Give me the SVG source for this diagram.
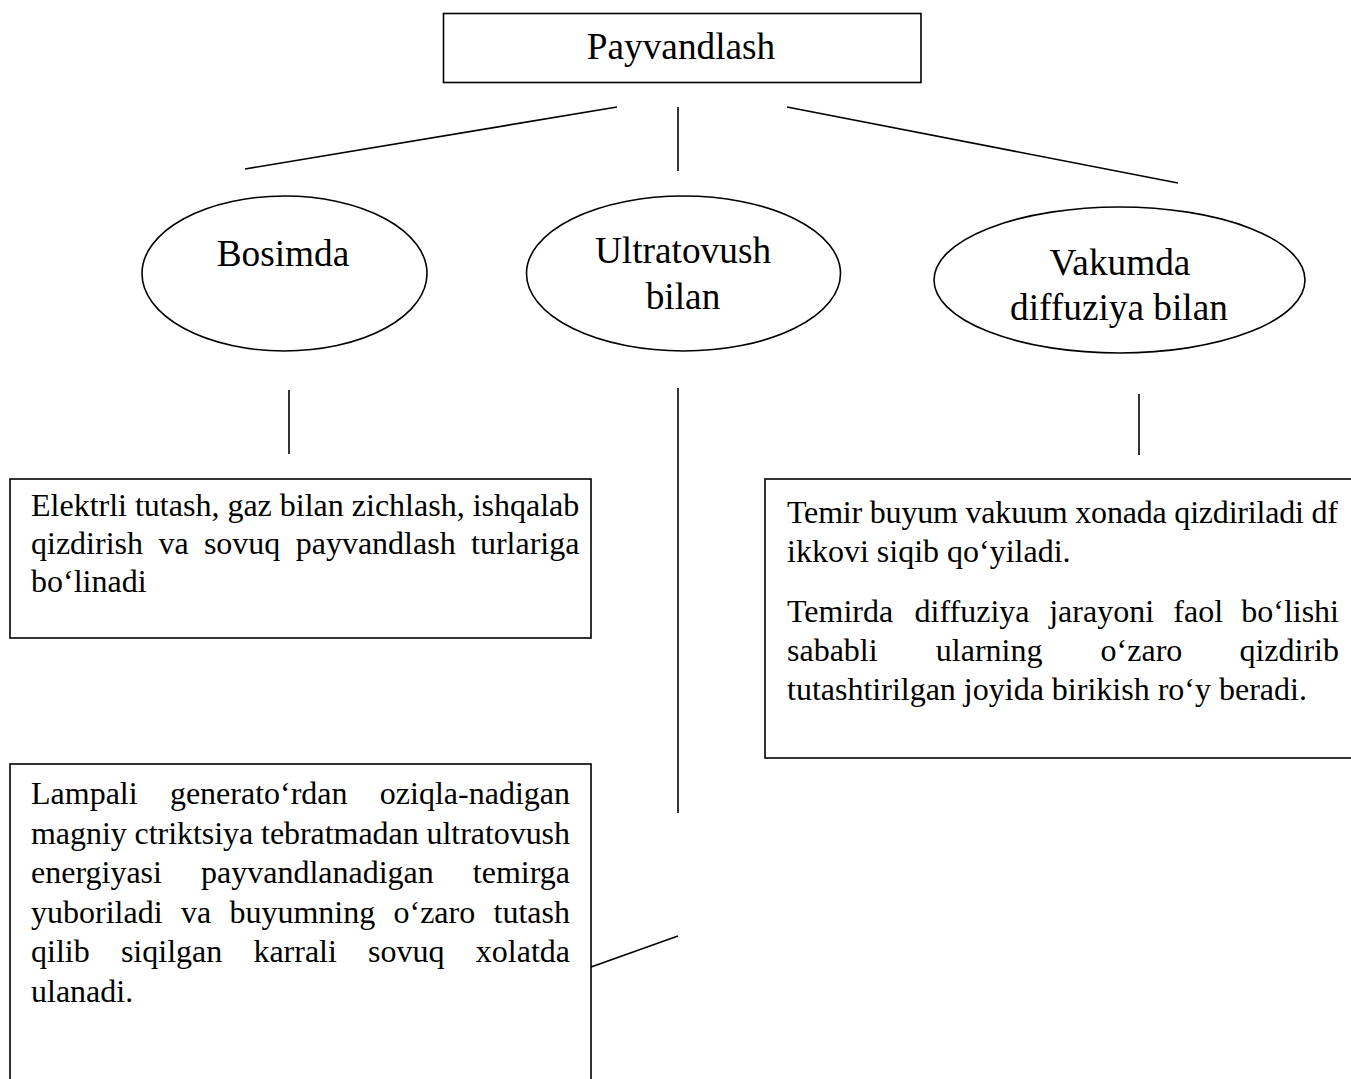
<svg xmlns="http://www.w3.org/2000/svg" width="1351" height="1079" viewBox="0 0 1351 1079">
<style>
.shape{fill:#fff;stroke:#000;stroke-width:1.6}
.conn line{stroke:#000;stroke-width:1.6}
.t{font-family:"Liberation Serif","Times New Roman",serif;fill:#000}
.big{font-size:37.3px}
.body{font-size:32px}
.c{text-anchor:middle}
.e{text-anchor:end}
</style>
<rect width="1351" height="1079" fill="#fff"/>
<g id="connectors" class="conn">
<line x1="617" y1="107" x2="245" y2="169"/>
<line x1="678" y1="107" x2="678" y2="171"/>
<line x1="787" y1="107" x2="1178" y2="183"/>
<line x1="289" y1="390" x2="289" y2="454"/>
<line x1="678" y1="388" x2="678" y2="813"/>
<line x1="1139" y1="394" x2="1139" y2="455"/>
<line x1="591" y1="967" x2="678" y2="936"/>
</g>
<g id="node-payvandlash">
<rect class="shape" x="443.5" y="13.5" width="477.5" height="69"/>
<text class="t big c" x="681" y="59">Payvandlash</text>
</g>
<g id="node-bosimda">
<ellipse class="shape" cx="284.5" cy="273.5" rx="142.5" ry="77.5"/>
<text class="t big c" x="283" y="266">Bosimda</text>
</g>
<g id="node-ultratovush">
<ellipse class="shape" cx="683.5" cy="273.5" rx="157" ry="77.5"/>
<text class="t big c" x="683" y="263">Ultratovush</text>
<text class="t big c" x="683" y="309">bilan</text>
</g>
<g id="node-vakumda">
<ellipse class="shape" cx="1119.5" cy="280" rx="185.5" ry="73"/>
<text class="t big c" x="1120" y="275">Vakumda</text>
<text class="t big c" x="1119" y="320">diffuziya bilan</text>
</g>
<g id="node-bosimda-desc">
<rect class="shape" x="10" y="479" width="581" height="159"/>
<text class="t body" x="31" y="516">Elektrli tutash, gaz bilan zichlash, ishqalab</text>
<text class="t body" y="554"><tspan x="31">qizdirish</tspan><tspan x="158.4">va</tspan><tspan x="203.9">sovuq</tspan><tspan x="295.7">payvandlash</tspan></text>
<text class="t body e" x="579.4" y="554">turlariga</text>
<text class="t body" x="31" y="592">bo‘linadi</text>
</g>
<g id="node-vakumda-desc">
<rect class="shape" x="765" y="479" width="600" height="279"/>
<text class="t body" x="787" y="523" textLength="551" lengthAdjust="spacing">Temir buyum vakuum xonada qizdiriladi df</text>
<text class="t body" x="787" y="562">ikkovi siqib qo‘yiladi.</text>
<text class="t body" y="622"><tspan x="787">Temirda</tspan><tspan x="914.6">diffuziya</tspan><tspan x="1049.2">jarayoni</tspan><tspan x="1173.3">faol</tspan></text>
<text class="t body e" x="1339" y="622">bo‘lishi</text>
<text class="t body" y="661"><tspan x="787">sababli</tspan><tspan x="935.8">ularning</tspan><tspan x="1100.6">o‘zaro</tspan></text>
<text class="t body e" x="1339" y="661">qizdirib</text>
<text class="t body" x="787" y="700">tutashtirilgan joyida birikish ro‘y beradi.</text>
</g>
<g id="node-ultratovush-desc">
<rect class="shape" x="10" y="764" width="581" height="330"/>
<text class="t body" y="804"><tspan x="31">Lampali</tspan><tspan x="169.9">generato‘rdan</tspan></text>
<text class="t body e" x="570" y="804">oziqla-nadigan</text>
<text class="t body" x="31" y="843.6" textLength="539" lengthAdjust="spacing">magniy ctriktsiya tebratmadan ultratovush</text>
<text class="t body" y="883.2"><tspan x="31">energiyasi</tspan><tspan x="201">payvandlanadigan</tspan></text>
<text class="t body e" x="570" y="883.2">temirga</text>
<text class="t body" y="922.8"><tspan x="31">yuboriladi</tspan><tspan x="180.9">va</tspan><tspan x="229.4">buyumning</tspan><tspan x="393.5">o‘zaro</tspan></text>
<text class="t body e" x="570" y="922.8">tutash</text>
<text class="t body" y="962.4"><tspan x="31">qilib</tspan><tspan x="120.9">siqilgan</tspan><tspan x="253.4">karrali</tspan><tspan x="368.1">sovuq</tspan></text>
<text class="t body e" x="570" y="962.4">xolatda</text>
<text class="t body" x="31" y="1002">ulanadi.</text>
</g>
</svg>
